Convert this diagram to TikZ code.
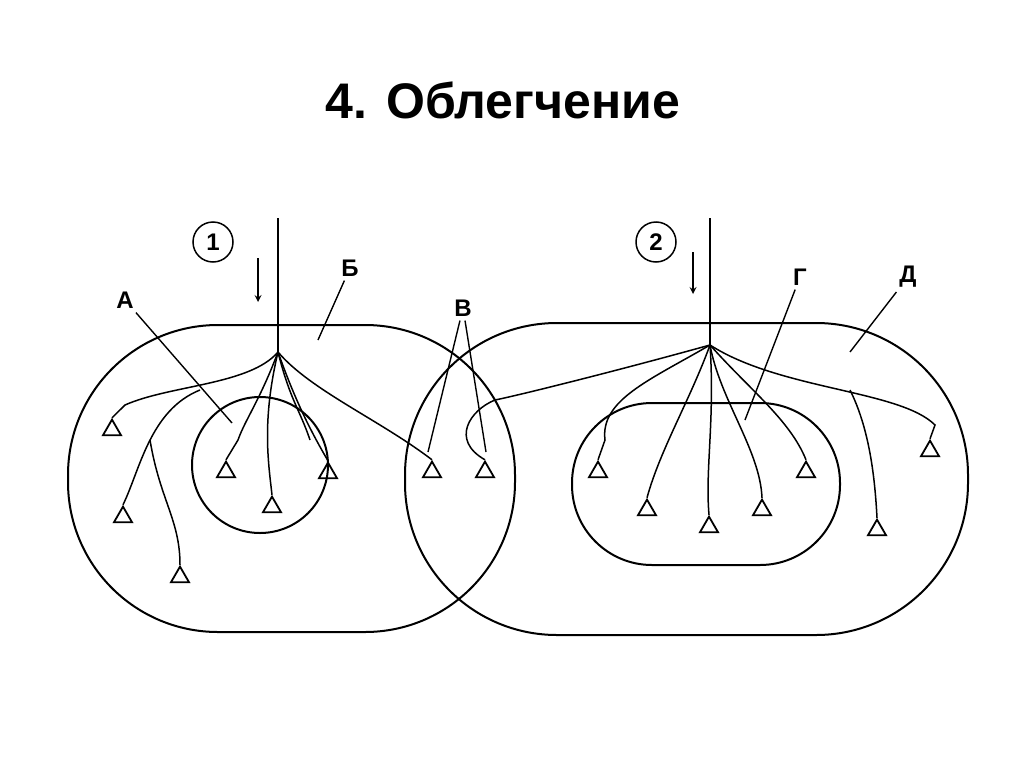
\documentclass[tikz,border=0pt]{standalone}
\usepackage{fontspec}
\setmainfont{Liberation Sans}
\usetikzlibrary{shapes.geometric}
\begin{document}
\begin{tikzpicture}[x=1pt,y=-1pt,line width=2pt,
  tri/.style={draw,isosceles triangle,isosceles triangle apex angle=60,shape border rotate=90,minimum width=18pt,inner sep=0pt,line width=1.8pt},
  lbl/.style={font=\bfseries\fontsize{24}{28}\selectfont},
  br/.style={line width=1.5pt},
  ldr/.style={line width=1.4pt}]
\useasboundingbox (0,0) rectangle (1024,768);
\node[font=\bfseries\fontsize{50}{56}\selectfont] (title) at (503,100) {4. Облегчение};
% outer shapes
\draw[rounded corners=150pt] (68,325) rectangle (515,632);
\draw[rounded corners=152pt] (405,323) rectangle (968,635);
\draw (260,465) circle (68);
\draw[rounded corners=80pt] (572,403) rectangle (840,565);
% numbers
\node[draw,circle,line width=1.5pt,minimum size=40pt,lbl] (n1) at (213,242) {1};
\node[draw,circle,line width=1.5pt,minimum size=40pt,lbl] (n2) at (656,242) {2};
\coordinate (a1s) at (258,258); \coordinate (a1e) at (258,302);
\coordinate (a2s) at (693,252); \coordinate (a2e) at (693,294);
\draw[-stealth,line width=2pt] (a1s) -- (a1e);
\draw[-stealth,line width=2pt] (a2s) -- (a2e);
% trunks
\coordinate (t1) at (278,218); \coordinate (b1) at (278,352);
\coordinate (t2) at (710,218); \coordinate (b2) at (710,345);
\draw (t1) -- (b1); \draw (t2) -- (b2);
% triangles left
\node[tri] (L1) at (112,430) {};
\node[tri] (L2) at (123,517) {};
\node[tri] (L3) at (180,577) {};
\node[tri] (L4) at (226,472) {};
\node[tri] (L5) at (272,507) {};
\node[tri] (L6) at (328,473) {};
\node[tri] (L7) at (432,472) {};
\node[tri] (L8) at (485,472) {};
% triangles right
\node[tri] (R1) at (598,472) {};
\node[tri] (R2) at (647,510) {};
\node[tri] (R3) at (709,527) {};
\node[tri] (R4) at (762,510) {};
\node[tri] (R5) at (806,472) {};
\node[tri] (R6) at (930,451) {};
\node[tri] (R7) at (877,530) {};
% left branches
\draw[br] (b1) .. controls (250,385) and (170,385) .. (125,405) -- (L1.north);
\draw[br] (200,390) .. controls (150,410) and (140,470) .. (L2.north);
\draw[br] (150,440) .. controls (160,500) and (180,520) .. (L3.north);
\draw[br] (b1) .. controls (260,400) and (245,420) .. (238,440) -- (L4.north);
\draw[br] (b1) .. controls (262,420) and (268,460) .. (L5.north);
\draw[br] (b1) .. controls (295,400) and (310,430) .. (L6.north);
\draw[br] (b1) .. controls (310,390) and (380,420) .. (L7.north);
\draw[br] (b1) .. controls (290,400) and (300,410) .. (310,440);
% right branches
\draw[br] (b2) .. controls (650,380) and (600,400) .. (605,440) -- (R1.north);
\draw[br] (b2) .. controls (690,400) and (660,450) .. (R2.north);
\draw[br] (b2) .. controls (715,420) and (705,470) .. (R3.north);
\draw[br] (b2) .. controls (720,400) and (760,450) .. (R4.north);
\draw[br] (b2) .. controls (750,390) and (790,420) .. (R5.north);
\draw[br] (b2) .. controls (780,390) and (900,390) .. (935,425) -- (R6.north);
\draw[br] (850,390) .. controls (870,430) and (875,480) .. (R7.north);
\draw[br] (b2) .. controls (620,370) and (520,395) .. (495,400) .. controls (470,410) and (450,440) .. (L8.north);
% labels
\node[lbl] (A) at (125,300) {А};
\node[lbl] (B) at (350,268) {Б};
\node[lbl] (V) at (463,308) {В};
\node[lbl] (G) at (800,277) {Г};
\node[lbl] (D) at (908,277) {Д};
\coordinate (Ae) at (232,423); \coordinate (Be) at (318,340);
\coordinate (V1) at (428,452); \coordinate (V2) at (486,452);
\coordinate (Ge) at (745,420); \coordinate (De) at (850,352);
\draw[ldr] (A) -- (Ae); \draw[ldr] (B) -- (Be);
\draw[ldr] (V) -- (V1); \draw[ldr] (V) -- (V2);
\draw[ldr] (G) -- (Ge); \draw[ldr] (D) -- (De);
\end{tikzpicture}
\end{document}
